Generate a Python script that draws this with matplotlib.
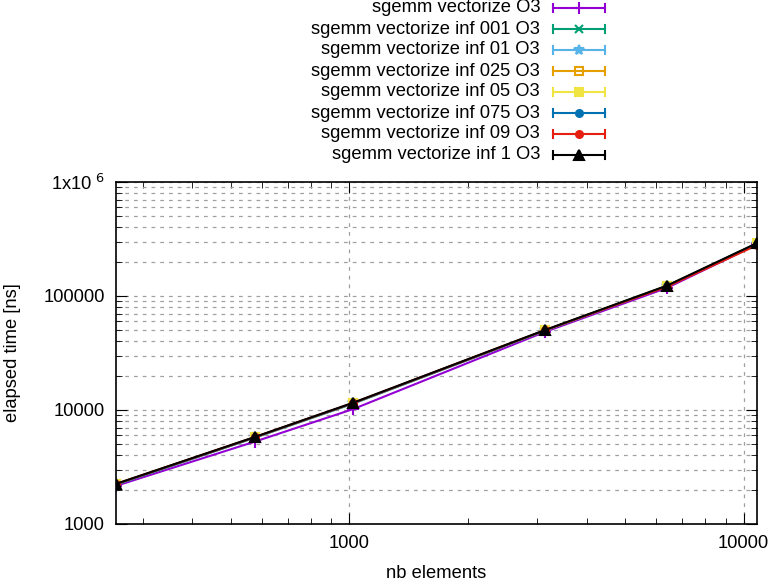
import matplotlib
matplotlib.use('Agg')
from matplotlib import pyplot as plt
from matplotlib.lines import Line2D
from matplotlib.ticker import LogLocator, FixedLocator, NullFormatter

plt.rcParams['font.family'] = ['Liberation Sans', 'DejaVu Sans']

nb_elements = [256, 576, 1024, 3136, 6400, 10816]

labels = [
    'sgemm vectorize O3',
    'sgemm vectorize inf 001 O3',
    'sgemm vectorize inf 01 O3',
    'sgemm vectorize inf 025 O3',
    'sgemm vectorize inf 05 O3',
    'sgemm vectorize inf 075 O3',
    'sgemm vectorize inf 09 O3',
    'sgemm vectorize inf 1 O3',
]

t_vect = [2160, 5280, 10200, 48500, 118000, 283000]
t_inf_001 = [2220, 5720, 11400, 49800, 122000, 289000]
t_inf_01 = [2230, 5740, 11450, 49900, 122500, 288000]
t_inf_025 = [2240, 5760, 11500, 50000, 123000, 287000]
t_inf_05 = [2230, 5750, 11480, 49900, 122800, 289000]
t_inf_075 = [2220, 5740, 11450, 49800, 122500, 288000]
t_inf_09 = [2240, 5780, 11550, 50100, 121000, 279000]
t_inf_1 = [2250, 5800, 11600, 50300, 123500, 291000]

series = [t_vect, t_inf_001, t_inf_01, t_inf_025, t_inf_05, t_inf_075, t_inf_09, t_inf_1]
colors = ['#9400d3', '#009e73', '#56b4e9', '#e69f00', '#f0e442', '#0072b2', '#e51e10', '#000000']
markers = ['+', 'x', '*', 's', 's', 'o', 'o', '^']
sizes = [8, 6, 7, 5.5, 6, 5, 5, 7]
filled = [True, True, True, False, True, True, True, True]

W, H = 770, 582
FS = 13.2
fig = plt.figure(figsize=(W / 100, H / 100), dpi=100)
ax = fig.add_axes([116 / W, 1 - 524 / H, (757 - 116) / W, (524 - 182) / H])

for ys, c, m, s, f in zip(series, colors, markers, sizes, filled):
    ax.plot(nb_elements, ys, color=c, lw=1.5, marker=m, ms=s, mew=1.5,
            mfc=c if f else 'none', mec=c)

ax.set_xscale('log')
ax.set_yscale('log')
ax.set_xlim(256, 10816)
ax.set_ylim(1000, 1e6)

ax.yaxis.set_major_locator(FixedLocator([1e3, 1e4, 1e5, 1e6]))
ax.set_yticklabels(['1000', '10000', '100000', r'1x10$^{\ 6}$'])
ax.yaxis.set_minor_locator(LogLocator(base=10, subs=range(2, 10)))
ax.yaxis.set_minor_formatter(NullFormatter())
ax.xaxis.set_major_locator(FixedLocator([1000, 10000]))
ax.set_xticklabels(['1000', '10000'])
ax.xaxis.set_minor_locator(LogLocator(base=10, subs=range(2, 10)))
ax.xaxis.set_minor_formatter(NullFormatter())

ax.tick_params(which='both', direction='in', top=True, right=True, labelsize=FS, pad=8)
ax.tick_params(which='major', length=8)
ax.tick_params(which='minor', length=4)
ax.grid(True, which='major', axis='both', color='#a0a0a0', ls=(0, (3, 4)), lw=0.9)
ax.grid(True, which='minor', axis='y', color='#a0a0a0', ls=(0, (3, 4)), lw=0.9)
for s in ax.spines.values():
    s.set_linewidth(1.2)

ax.set_xlabel('nb elements', fontsize=FS, labelpad=9)
ax.set_ylabel('elapsed time [ns]', fontsize=FS, labelpad=16)


def px(x, y):
    return x / W, 1 - y / H


# legend above the plot, gnuplot style
for i, (lab, c, m, s, f) in enumerate(zip(labels, colors, markers, sizes, filled)):
    y = 8 + i * 21
    fig.text(*px(540, y), lab, ha='right', va='center', fontsize=FS)
    x0, x1 = px(553, y)[0], px(605, y)[0]
    yy = px(0, y)[1]
    fig.add_artist(Line2D([x0, x1], [yy, yy], color=c, lw=1.5, transform=fig.transFigure))
    for xe in (553, 605):
        fig.add_artist(Line2D([px(xe, 0)[0]] * 2, [px(0, y - 4)[1], px(0, y + 4)[1]],
                              color=c, lw=1.5, transform=fig.transFigure))
    fig.add_artist(Line2D([px(579, 0)[0]], [yy], color=c, marker=m, ms=s, mew=1.5,
                          mfc=c if f else 'none', mec=c, transform=fig.transFigure))

fig.savefig('out.png', dpi=100)
